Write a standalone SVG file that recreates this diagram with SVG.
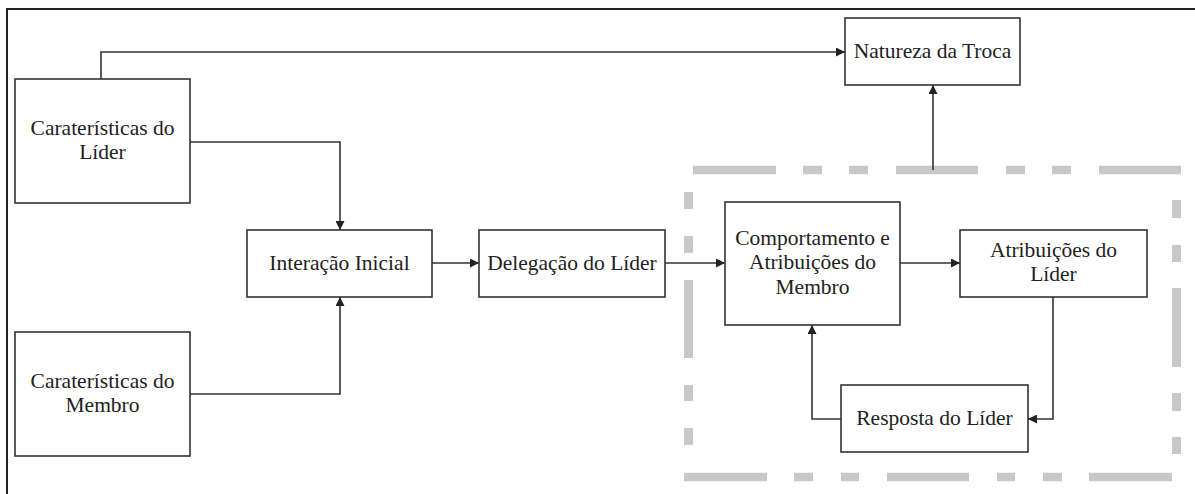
<svg xmlns="http://www.w3.org/2000/svg" width="1195" height="494" viewBox="0 0 1195 494">
  <style>
    .box { fill: #ffffff; stroke: #333333; stroke-width: 1.6; }
    .lbl { font-family: "Liberation Serif", "Times New Roman", Tinos, "DejaVu Serif", serif; font-size: 21.5px; fill: #222222; text-anchor: middle; }
    .wire { fill: none; stroke: #333333; stroke-width: 1.6; }
    .frame { fill: none; stroke: #222222; stroke-width: 2; }
    .dashH { stroke: #c8c8c8; stroke-width: 8.5; }
    .dashV { stroke: #c8c8c8; stroke-width: 9; }
  </style>
  <defs>
    <marker id="arrow" viewBox="0 0 10 10" refX="10" refY="5" markerWidth="9" markerHeight="9" markerUnits="userSpaceOnUse" orient="auto">
      <path d="M0,0 L10,5 L0,10 z" fill="#222222"/>
    </marker>
  </defs>

  <rect width="1195" height="494" fill="#ffffff"/>

  <!-- outer frame: top and left edges -->
  <path class="frame" d="M7,494 L7,9 L1195,9"/>

  <!-- grey long-dash-dot-dot boundary around the feedback loop -->
  <g id="loop-boundary">
    <line class="dashH" x1="693" y1="170" x2="776" y2="170"/>
    <line class="dashH" x1="803" y1="170" x2="822" y2="170"/>
    <line class="dashH" x1="849" y1="170" x2="868" y2="170"/>
    <line class="dashH" x1="896" y1="170" x2="978" y2="170"/>
    <line class="dashH" x1="1006" y1="170" x2="1025" y2="170"/>
    <line class="dashH" x1="1052" y1="170" x2="1071" y2="170"/>
    <line class="dashH" x1="1099" y1="170" x2="1181" y2="170"/>

    <line class="dashV" x1="1176.5" y1="200" x2="1176.5" y2="218"/>
    <line class="dashV" x1="1176.5" y1="245" x2="1176.5" y2="262"/>
    <line class="dashV" x1="1176.5" y1="288" x2="1176.5" y2="367"/>
    <line class="dashV" x1="1176.5" y1="393" x2="1176.5" y2="411"/>
    <line class="dashV" x1="1176.5" y1="437" x2="1176.5" y2="454"/>

    <line class="dashH" x1="684" y1="477" x2="767" y2="477"/>
    <line class="dashH" x1="794" y1="477" x2="813" y2="477"/>
    <line class="dashH" x1="841" y1="477" x2="859" y2="477"/>
    <line class="dashH" x1="887" y1="477" x2="969" y2="477"/>
    <line class="dashH" x1="997" y1="477" x2="1015" y2="477"/>
    <line class="dashH" x1="1043" y1="477" x2="1062" y2="477"/>
    <line class="dashH" x1="1089" y1="477" x2="1172" y2="477"/>

    <line class="dashV" x1="688.5" y1="192" x2="688.5" y2="209"/>
    <line class="dashV" x1="688.5" y1="236" x2="688.5" y2="253"/>
    <line class="dashV" x1="688.5" y1="280" x2="688.5" y2="358"/>
    <line class="dashV" x1="688.5" y1="385" x2="688.5" y2="401"/>
    <line class="dashV" x1="688.5" y1="428" x2="688.5" y2="445"/>
  </g>

  <!-- connectors -->
  <g id="connectors">
    <path class="wire" d="M101,79 L101,52 L845,52" marker-end="url(#arrow)"/>
    <path class="wire" d="M190,142 L340,142 L340,230" marker-end="url(#arrow)"/>
    <path class="wire" d="M190,394 L340,394 L340,297" marker-end="url(#arrow)"/>
    <path class="wire" d="M432,263 L479,263" marker-end="url(#arrow)"/>
    <path class="wire" d="M665,263 L725,263" marker-end="url(#arrow)"/>
    <path class="wire" d="M900,263 L960,263" marker-end="url(#arrow)"/>
    <path class="wire" d="M1053,297 L1053,419 L1028,419" marker-end="url(#arrow)"/>
    <path class="wire" d="M841,419 L812,419 L812,325" marker-end="url(#arrow)"/>
    <path class="wire" d="M933,170 L933,85" marker-end="url(#arrow)"/>
  </g>

  <g id="node-caracteristicas-lider">
    <rect class="box" x="15" y="79" width="175" height="124"/>
    <text class="lbl" x="102.5" y="135">Caraterísticas do</text>
    <text class="lbl" x="102.5" y="159">Líder</text>
  </g>

  <g id="node-caracteristicas-membro">
    <rect class="box" x="15" y="332" width="175" height="124"/>
    <text class="lbl" x="102.5" y="388">Caraterísticas do</text>
    <text class="lbl" x="102.5" y="412">Membro</text>
  </g>

  <g id="node-interacao-inicial">
    <rect class="box" x="247" y="230" width="185" height="67"/>
    <text class="lbl" x="339.5" y="270">Interação Inicial</text>
  </g>

  <g id="node-delegacao-lider">
    <rect class="box" x="479" y="230" width="186" height="67"/>
    <text class="lbl" x="572" y="270">Delegação do Líder</text>
  </g>

  <g id="node-comportamento-membro">
    <rect class="box" x="725" y="202" width="175" height="123"/>
    <text class="lbl" x="812.5" y="245">Comportamento e</text>
    <text class="lbl" x="812.5" y="269">Atribuições do</text>
    <text class="lbl" x="812.5" y="294">Membro</text>
  </g>

  <g id="node-atribuicoes-lider">
    <rect class="box" x="960" y="230" width="187" height="67"/>
    <text class="lbl" x="1053.5" y="257">Atribuições do</text>
    <text class="lbl" x="1053.5" y="281">Líder</text>
  </g>

  <g id="node-resposta-lider">
    <rect class="box" x="841" y="385" width="187" height="67"/>
    <text class="lbl" x="934.5" y="425">Resposta do Líder</text>
  </g>

  <g id="node-natureza-troca">
    <rect class="box" x="845" y="18" width="175" height="67"/>
    <text class="lbl" x="932.5" y="58">Natureza da Troca</text>
  </g>
</svg>
